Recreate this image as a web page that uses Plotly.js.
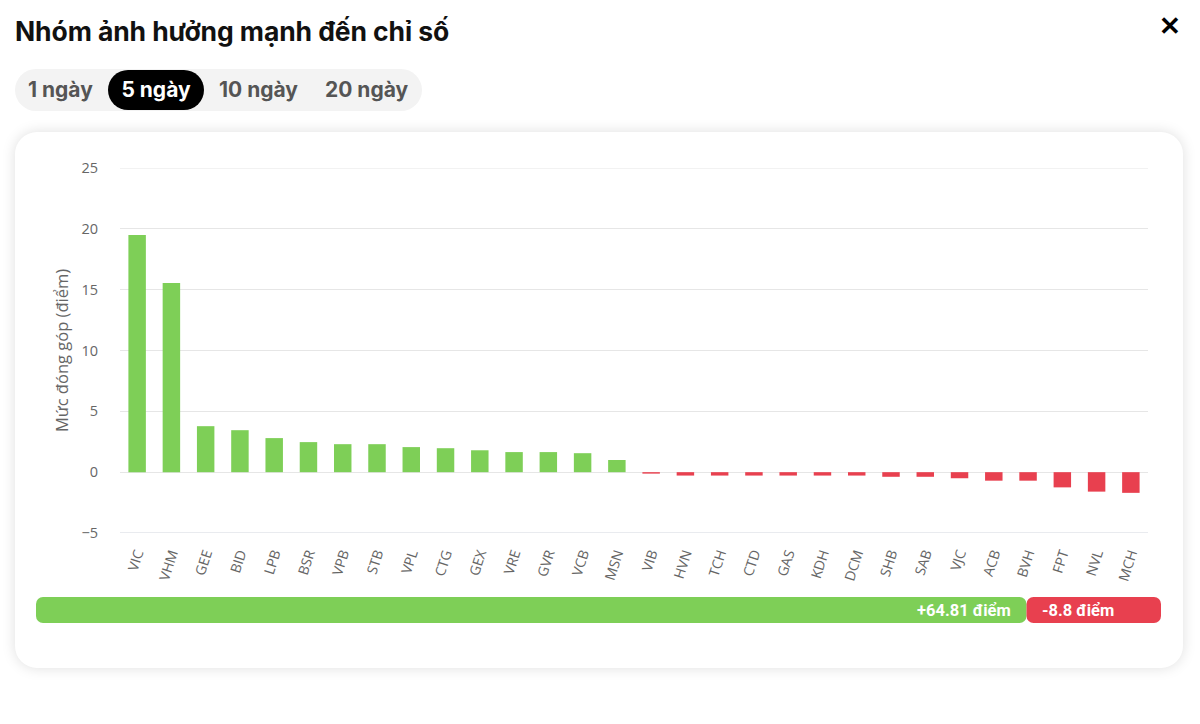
<!DOCTYPE html>
<html>
<head>
<meta charset="utf-8">
<script src="https://cdn.plot.ly/plotly-3.0.1.min.js"></script>
<style>
  html, body { margin:0; padding:0; width:1200px; height:724px; background:#fff; overflow:hidden; font-family: Inter, "Noto Sans", sans-serif; }
  #title { position:absolute; left:15px; top:15px; font-size:26.5px; font-weight:700; color:#111; letter-spacing:-0.1px; }
  #close { position:absolute; left:1159px; top:10px; font-size:26px; font-weight:700; color:#000; }
  #tabs { position:absolute; left:15px; top:69px; width:407px; height:42px; border-radius:21px; background:#f3f3f3; }
  .tab { position:absolute; top:0; height:42px; line-height:42px; font-size:21px; font-weight:700; color:#555; }
  .tab.sel { background:#000; color:#fff; border-radius:20px; top:1px; height:40px; line-height:40px; text-align:center; }
  #card { position:absolute; left:15px; top:132px; width:1168px; height:536px; border-radius:22px; background:#fff; box-shadow:0 0 14px rgba(0,0,0,0.13); }
  #chart { position:absolute; left:0; top:0; width:1200px; height:724px; }
</style>
</head>
<body>
<div id="title">Nhóm ảnh hưởng mạnh đến chỉ số</div>
<div id="close">✕</div>
<div id="tabs">
  <div class="tab" style="left:13px;">1 ngày</div>
  <div class="tab sel" style="left:93px;width:96px;">5 ngày</div>
  <div class="tab" style="left:204px;">10 ngày</div>
  <div class="tab" style="left:310px;">20 ngày</div>
</div>
<div id="card"></div>
<div id="chart"></div>
<script>
// ---- data ----
const tickers = ["VIC","VHM","GEE","BID","LPB","BSR","VPB","STB","VPL","CTG","GEX","VRE","GVR","VCB","MSN",
                 "VIB","HVN","TCH","CTD","GAS","KDH","DCM","SHB","SAB","VJC","ACB","BVH","FPT","NVL","MCH"];
const contributions = [19.5, 15.55, 3.78, 3.45, 2.8, 2.47, 2.3, 2.3, 2.06, 1.97, 1.8, 1.65, 1.65, 1.56, 1.0,
                       -0.12, -0.28, -0.28, -0.28, -0.28, -0.28, -0.28, -0.38, -0.38, -0.5, -0.7, -0.7, -1.25, -1.6, -1.7];
const positiveTotal = 64.81;
const negativeTotal = -8.8;
const yAxisTitle = "Mức đóng góp (điểm)";
const yTicks = [-5, 0, 5, 10, 15, 20, 25];

const GREEN = "#7ecf57";
const RED = "#e8404f";

const barColors = contributions.map(v => v >= 0 ? GREEN : RED);
const absNeg = Math.abs(negativeTotal);
const fmt = v => (v > 0 ? "+" : "") + v + " điểm";

const traces = [
  {
    type: "bar", x: tickers, y: contributions,
    marker: { color: barColors },
    xaxis: "x", yaxis: "y", hoverinfo: "x+y", showlegend: false
  },
  {
    type: "bar", orientation: "h", y: [0], x: [-positiveTotal], base: [positiveTotal], width: [1],
    marker: { color: GREEN, cornerradius: 7 }, xaxis: "x2", yaxis: "y2", showlegend: false, hoverinfo: "skip"
  },
  {
    type: "bar", orientation: "h", y: [0], x: [absNeg], base: [positiveTotal], width: [1],
    marker: { color: RED, cornerradius: 7 }, xaxis: "x2", yaxis: "y2", showlegend: false, hoverinfo: "skip"
  }
];

const layout = {
  width: 1200, height: 724,
  margin: { l: 0, r: 0, t: 0, b: 0 },
  paper_bgcolor: "rgba(0,0,0,0)", plot_bgcolor: "rgba(0,0,0,0)",
  font: { family: "Open Sans, DejaVu Sans, sans-serif", color: "#666" },
  bargap: 0.49,
  barmode: "overlay",
  xaxis: {
    domain: [120/1200, 1148/1200], anchor: "y",
    tickangle: -72, tickfont: { size: 14, color: "#666" },
    showgrid: false, showline: false, ticks: "outside", ticklen: 6, tickcolor: "rgba(0,0,0,0)",
    automargin: false, fixedrange: true
  },
  yaxis: {
    domain: [1 - 533/724, 1 - 168/724], anchor: "x",
    range: [-5, 25], tickvals: yTicks,
    tickfont: { size: 14.5, color: "#666" },
    gridcolor: "#e6e6e6", gridwidth: 1, zeroline: false, showline: false,
    ticks: "outside", ticklen: 18, tickcolor: "rgba(0,0,0,0)",
    title: { text: yAxisTitle, font: { size: 16.5, color: "#666" }, standoff: 8 },
    automargin: false, fixedrange: true
  },
  xaxis2: {
    domain: [36/1200, 1161/1200], anchor: "y2",
    range: [0, positiveTotal + absNeg], visible: false, fixedrange: true
  },
  yaxis2: {
    domain: [1 - 623/724, 1 - 597/724], anchor: "x2",
    range: [-0.5, 0.5], visible: false, fixedrange: true
  },
  shapes: [
    { type: "line", xref: "x domain", yref: "y", x0: 0, x1: 1, y0: 25, y1: 25, line: { color: "#e6e6e6", width: 1 } },
    { type: "line", xref: "x domain", yref: "y", x0: 0, x1: 1, y0: -5, y1: -5, line: { color: "#d3d6de", width: 1 } }
  ],
  annotations: [
    { xref: "x2", yref: "y2", x: positiveTotal, y: 0, text: fmt(positiveTotal), showarrow: false,
      xanchor: "right", xshift: -14, font: { family: "Roboto, Inter, sans-serif", size: 16.5, color: "#fff", weight: 700 } },
    { xref: "x2", yref: "y2", x: positiveTotal, y: 0, text: fmt(negativeTotal), showarrow: false,
      xanchor: "left", xshift: 13, font: { family: "Roboto, Inter, sans-serif", size: 16.5, color: "#fff", weight: 700 } }
  ]
};

Plotly.newPlot("chart", traces, layout, { displayModeBar: false, staticPlot: true });
</script>
</body>
</html>
